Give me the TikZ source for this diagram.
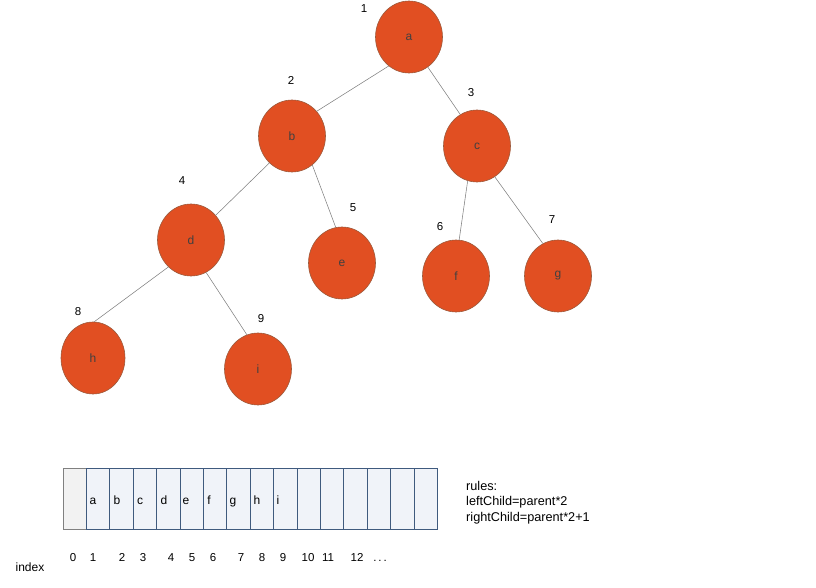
\documentclass[tikz,border=0pt]{standalone}
\usepackage{fontspec}
\setmainfont{Liberation Sans}
\usetikzlibrary{shapes.geometric}
\definecolor{heapfill}{HTML}{E14F22}
\definecolor{heapline}{HTML}{9C5A3C}
\definecolor{cellline}{HTML}{3F5A7E}
\definecolor{cellfill}{HTML}{F0F3F9}
\definecolor{zerofill}{HTML}{F2F2F2}
\begin{document}
\begin{tikzpicture}[x=1pt,y=-1pt,
  heap/.style={ellipse,fill=heapfill,draw=heapline,line width=0.6pt,inner sep=0pt,minimum width=67pt,minimum height=72pt,font=\fontsize{12}{14}\selectfont,text=black!75},
  idx/.style={font=\fontsize{11.5}{13}\selectfont},
  link/.style={draw=gray,line width=0.55pt},
  cell/.style={rectangle,draw=cellline,fill=cellfill,line width=1pt,minimum width=23.4pt,minimum height=61pt,inner sep=0pt},
  txt/.style={font=\fontsize{12.7}{15.5}\selectfont,inner sep=0pt}]
\useasboundingbox (0,0) rectangle (816,588);
% tree
\node[heap] (a) at (409,37) {a};
\node[heap] (b) at (292,136) {b};
\node[heap] (c) at (477,146) {c};
\node[heap] (d) at (191,240) {d};
\node[heap] (e) at (342,263) {e};
\node[heap] (f) at (456,276) {f};
\node[heap] (g) at (558,276) {g};
\node[heap,minimum width=64pt] (h) at (93,358) {h};
\node[heap] (i) at (258,369) {i};
\draw[link] (a.235)--(b.45);
\draw[link] (a.-58)--(c.118);
\draw[link] (b.-130)--(d.45);
\draw[link] (b.-55)--(e.100);
\draw[link] (c.-105)--(f.85);
\draw[link] (c.-60)--(g.115);
\draw[link] (d.-130)--(h.88);
\draw[link] (d.-65)--(i.108);
% numbers
\node[idx] (n1) at (364,9) {1};
\node[idx] (n2) at (291,80) {2};
\node[idx] (n3) at (471,93) {3};
\node[idx] (n4) at (182,181) {4};
\node[idx] (n5) at (353,208) {5};
\node[idx] (n6) at (440,227) {6};
\node[idx] (n7) at (552,220) {7};
\node[idx] (n8) at (78,312) {8};
\node[idx] (n9) at (261,319) {9};
% array
\node[cell,draw=gray,fill=zerofill] (cell0) at (74.7,498.8) {};
\foreach \k in {1,...,15}
  \node[cell] (cell\k) at (74.7+23.4*\k,498.8) {};
\foreach \l/\x in {a/93,b/117,c/140,d/164,e/186,f/209,g/233,h/257,i/278}
  \node[idx,font=\fontsize{12}{13}\selectfont,anchor=base] (v\l) at (\x,504) {\l};
\foreach \n/\x in {0/73,1/93,2/122,3/143,4/171,5/192,6/213,7/241,8/262,9/283,10/308,11/328,12/357}
  \node[idx,anchor=base] (i\n) at (\x,561) {\n};
\node[idx,anchor=base] (more) at (380,561) {.\,.\,.};
\node[idx,font=\fontsize{12}{13}\selectfont,anchor=base] (index) at (30,571) {index};
\node[txt,align=left,anchor=north west] (rules) at (466,481) {rules:\\leftChild=parent*2\\rightChild=parent*2+1};
\end{tikzpicture}
\end{document}
